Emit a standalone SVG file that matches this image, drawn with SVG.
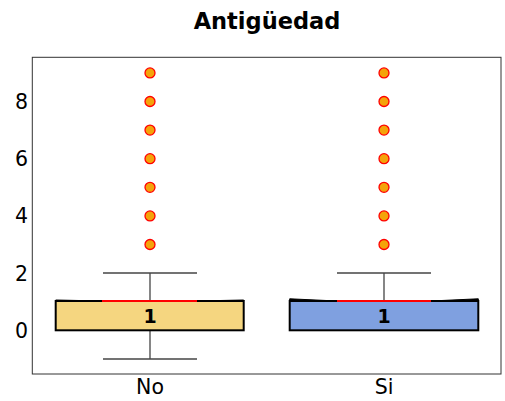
<svg xmlns="http://www.w3.org/2000/svg" width="505" height="401" viewBox="0 0 505 401">
<style>
text{font-family:"DejaVu Sans","Liberation Sans",sans-serif;fill:#000}
.tick{font-size:20.5px}
.title{font-size:22.5px;font-weight:bold}
.lbl{font-size:19px;font-weight:bold}
.wh{stroke:#444;stroke-width:1.3;fill:none}
.box{stroke:#000;stroke-width:2}
.med{stroke:#f00;stroke-width:2}
.fl{fill:#f4a30a;stroke:#f00;stroke-width:1.3}
</style>
<rect width="505" height="401" fill="#fff"/>
<text class="title" x="267" y="28.5" text-anchor="middle">Antigüedad</text>
<g id="axes">
<rect x="32.3" y="57.3" width="468.7" height="316.7" fill="none" stroke="#333" stroke-width="1"/>
<text class="tick" x="28" y="337.8" text-anchor="end">0</text>
<text class="tick" x="28" y="280.6" text-anchor="end">2</text>
<text class="tick" x="28" y="223.4" text-anchor="end">4</text>
<text class="tick" x="28" y="166.2" text-anchor="end">6</text>
<text class="tick" x="28" y="109" text-anchor="end">8</text>
<text class="tick" x="150" y="394" text-anchor="middle">No</text>
<text class="tick" x="384" y="394" text-anchor="middle">Si</text>
</g>
<g id="box-no">
<line class="wh" x1="150" y1="301" x2="150" y2="273"/>
<line class="wh" x1="150" y1="330.3" x2="150" y2="359"/>
<line class="wh" x1="103" y1="273" x2="197" y2="273"/>
<line class="wh" x1="103" y1="359" x2="197" y2="359"/>
<rect class="box" x="55.7" y="301" width="188" height="29.3" fill="#f5d680"/>
<polygon points="55.7,301 102,301 55.7,300" fill="#000" stroke="#000" stroke-width="1"/>
<polygon points="243.7,301 197,301 243.7,300" fill="#000" stroke="#000" stroke-width="1"/>
<line class="med" x1="102" y1="301" x2="197" y2="301"/>
<text class="lbl" x="150" y="322.7" text-anchor="middle">1</text>
<g class="fl">
<circle cx="150" cy="244.5" r="5"/>
<circle cx="150" cy="215.9" r="5"/>
<circle cx="150" cy="187.3" r="5"/>
<circle cx="150" cy="158.7" r="5"/>
<circle cx="150" cy="130.1" r="5"/>
<circle cx="150" cy="101.5" r="5"/>
<circle cx="150" cy="72.9" r="5"/>
</g>
</g>
<g id="box-si">
<line class="wh" x1="384" y1="301" x2="384" y2="273"/>
<line class="wh" x1="337" y1="273" x2="431" y2="273"/>
<rect class="box" x="289.7" y="301" width="188.6" height="29.3" fill="#7fa0e0"/>
<polygon points="289.7,301 337,301 289.7,298.8" fill="#000" stroke="#000" stroke-width="1"/>
<polygon points="478.3,301 431,301 478.3,298.8" fill="#000" stroke="#000" stroke-width="1"/>
<line class="med" x1="337" y1="301" x2="431" y2="301"/>
<text class="lbl" x="384" y="322.7" text-anchor="middle">1</text>
<g class="fl">
<circle cx="384" cy="244.5" r="5"/>
<circle cx="384" cy="215.9" r="5"/>
<circle cx="384" cy="187.3" r="5"/>
<circle cx="384" cy="158.7" r="5"/>
<circle cx="384" cy="130.1" r="5"/>
<circle cx="384" cy="101.5" r="5"/>
<circle cx="384" cy="72.9" r="5"/>
</g>
</g>
<g id="connectors"></g>
</svg>
